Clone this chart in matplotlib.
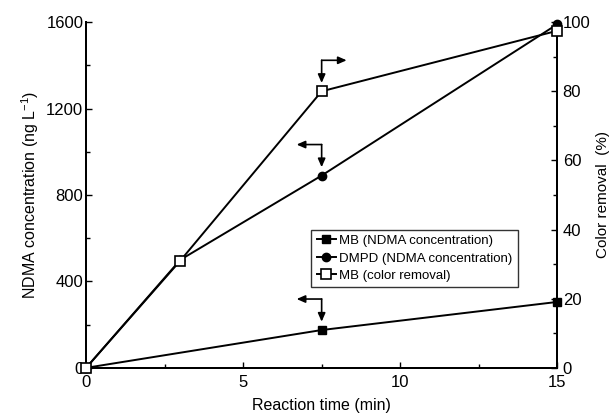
import matplotlib
matplotlib.use("Agg")
import matplotlib.pyplot as plt
from matplotlib.transforms import ScaledTranslation

plt.rcParams['font.family'] = ['Liberation Sans', 'DejaVu Sans']
plt.rcParams['mathtext.fontset'] = 'custom'
plt.rcParams['mathtext.rm'] = 'Liberation Sans'

# Data
t_mb = [0, 7.5, 15]
mb_ndma = [0, 175, 305]
t_dmpd = [0, 3, 7.5, 15]
dmpd_ndma = [0, 500, 890, 1590]
t_color = [0, 3, 7.5, 15]
mb_color = [0, 31, 80, 97.5]

fig = plt.figure(figsize=(6.15, 4.18), dpi=100)
ax = fig.add_axes([0.140, 0.120, 0.766, 0.827])
ax2 = ax.twinx()

l1, = ax.plot(t_mb, mb_ndma, '-s', color='black', mfc='black', mec='black', ms=6, lw=1.4,
              label='MB (NDMA concentration)', clip_on=False, zorder=3)
l2, = ax.plot(t_dmpd, dmpd_ndma, '-o', color='black', mfc='black', mec='black', ms=6, lw=1.4,
              label='DMPD (NDMA concentration)', clip_on=False, zorder=3)
l3, = ax2.plot(t_color, mb_color, '-s', color='black', mfc='white', mec='black', ms=7, mew=1.2, lw=1.4,
               label='MB (color removal)', clip_on=False, zorder=3)

ax.set_xlim(0, 15)
ax.set_ylim(0, 1600)
ax2.set_ylim(0, 100)
ax.set_xticks([0, 5, 10, 15])
ax.set_xticks([2.5, 7.5, 12.5], minor=True)
ax.set_yticks([0, 400, 800, 1200, 1600])
ax.set_yticks([200, 600, 1000, 1400], minor=True)
ax2.set_yticks([0, 20, 40, 60, 80, 100])
ax2.set_yticks([10, 30, 50, 70, 90], minor=True)

for a in (ax, ax2):
    a.spines['top'].set_visible(False)
    for s in a.spines.values():
        s.set_linewidth(1.4)
ax.tick_params(axis='both', which='major', direction='in', length=4, width=1, labelsize=12, pad=2)
ax.tick_params(axis='x', which='major', pad=5)
ax.tick_params(axis='both', which='minor', direction='in', length=3, width=1)
ax2.tick_params(axis='y', which='major', direction='in', length=4, width=1, labelsize=12, pad=4)
ax2.tick_params(axis='y', which='minor', direction='in', length=3, width=1)

ax.set_xlabel('Reaction time (min)', fontsize=11.5, labelpad=6)
ax.set_ylabel(r'NDMA concentration (ng L$^{\mathregular{-1}}$)', fontsize=11.5, labelpad=4)
ax2.set_ylabel('Color removal  (%)', fontsize=11, labelpad=4)

leg = ax2.legend(handles=[l1, l2, l3], loc='upper left', bbox_to_anchor=(0.478, 0.40),
                 fontsize=9.5, frameon=True, fancybox=False, edgecolor='black',
                 handlelength=1.5, handletextpad=0.2, borderpad=0.4, labelspacing=0.4,
                 borderaxespad=0)
leg.get_frame().set_linewidth(1.0)
leg.set_zorder(5)

def bent_arrow(axis, x, y, direction):
    corner = axis.transData + ScaledTranslation(0, 0.31, fig.dpi_scale_trans)
    end = axis.transData + ScaledTranslation(0.25 * direction, 0.31, fig.dpi_scale_trans)
    axis.annotate('', xy=(x, y), xycoords='data', xytext=(x, y), textcoords=corner,
                  arrowprops=dict(arrowstyle='-|>,head_length=0.5,head_width=0.22', color='black',
                                  lw=1.2, shrinkA=0, shrinkB=6))
    axis.annotate('', xy=(x, y), xycoords=end, xytext=(x, y), textcoords=corner,
                  arrowprops=dict(arrowstyle='-|>,head_length=0.5,head_width=0.22', color='black',
                                  lw=1.2, shrinkA=0, shrinkB=0))

bent_arrow(ax2, t_color[2], mb_color[2], 1)
bent_arrow(ax, t_dmpd[2], dmpd_ndma[2], -1)
bent_arrow(ax, t_mb[1], mb_ndma[1], -1)

fig.savefig('out.png', dpi=100)
